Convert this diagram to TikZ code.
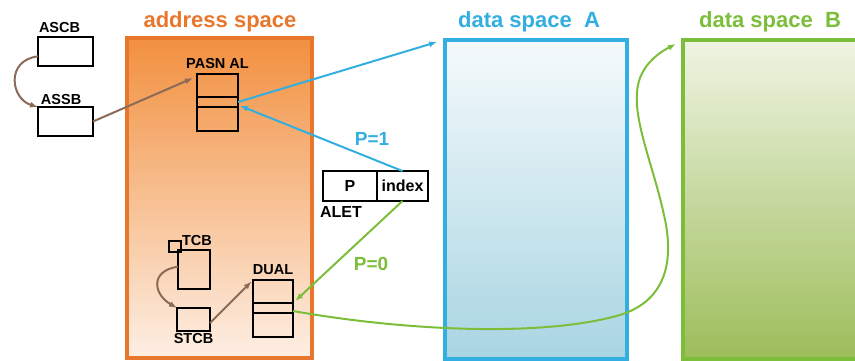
\documentclass[tikz,border=0pt]{standalone}
\usepackage{fontspec}
\setmainfont{Liberation Sans}
\usetikzlibrary{positioning,arrows.meta}

\definecolor{asedge}{HTML}{E8762C}
\definecolor{astop}{HTML}{F2903F}
\definecolor{asmid}{HTML}{F7B485}
\definecolor{asbot}{HTML}{FDEFE4}
\definecolor{dsaedge}{HTML}{33AEE1}
\definecolor{dsatop}{HTML}{F5FAFC}
\definecolor{dsabot}{HTML}{A8D5E2}
\definecolor{dsbedge}{HTML}{7CBD3A}
\definecolor{dsbtop}{HTML}{EFF4E3}
\definecolor{dsbmid}{HTML}{CADBA2}
\definecolor{dsbbot}{HTML}{9DBD5A}
\definecolor{ptrbrown}{HTML}{8B6B58}

\begin{document}
\begin{tikzpicture}
[
x=1pt, y=-1pt,
every node/.style={inner sep=0pt, outer sep=0pt},
lbl/.style={font=\fontsize{14.5}{15}\selectfont\bfseries},
cell/.style={draw, line width=2pt},
area/.style={line width=3.2pt},
heading/.style={anchor=base, font=\fontsize{22}{24}\selectfont\bfseries},
plabel/.style={anchor=base, font=\fontsize{19}{20}\selectfont\bfseries},
link/.style={line width=2pt, -{Latex[length=8pt,width=6pt]}}
]
\useasboundingbox (0,0) rectangle (855,360);

% spaces
\node[area, draw=asedge, top color=astop, middle color=asmid, bottom color=asbot, minimum width=185pt, minimum height=320pt] (as) at (219.5,198) {};
\node[heading, text=asedge] (astitle) at (220,27) {address space};
\node[area, draw=dsaedge, top color=dsatop, bottom color=dsabot, minimum width=182pt, minimum height=319pt] (dsA) at (536,199.5) {};
\node[heading, text=dsaedge] (dsAtitle) at (529,27) {data space\ \ A};
\node[area, draw=dsbedge, top color=dsbtop, middle color=dsbmid, bottom color=dsbbot, minimum width=190pt, minimum height=319pt] (dsB) at (778,199.5) {};
\node[heading, text=dsbedge] (dsBtitle) at (770,27) {data space\ \ B};

% control blocks
\node[cell, fill=white, minimum width=55pt, minimum height=29pt] (ascb) at (65.5,51.5) {};
\node[lbl, above right=4pt and 1pt of ascb.north west] (ascblbl) {ASCB};
\node[cell, fill=white, minimum width=55pt, minimum height=29pt] (assb) at (65.5,121.5) {};
\node[lbl, above right=2pt and 3pt of assb.north west] (assblbl) {ASSB};

\node[cell, minimum width=41pt, minimum height=23pt] (pasn1) at (217.5,85.5) {};
\node[cell, minimum width=41pt, minimum height=10pt, below=0pt of pasn1] (pasn2) {};
\node[cell, minimum width=41pt, minimum height=24pt, below=0pt of pasn2] (pasn3) {};
\node[lbl, above=5pt of pasn1] (pasnlbl) {PASN AL};

\node[cell, minimum width=32pt, minimum height=39pt] (tcb) at (194,269.5) {};
\node[cell, minimum width=12pt, minimum height=11pt] (tcbmark) at (175,246.5) {};
\node[lbl, above right=4pt and 4pt of tcb.north west] (tcblbl) {TCB};
\node[cell, minimum width=33pt, minimum height=23pt] (stcb) at (193.5,319.5) {};
\node[lbl, below=2.5pt of stcb] (stcblbl) {STCB};

\node[cell, minimum width=40pt, minimum height=23pt] (dual1) at (273,291.5) {};
\node[cell, minimum width=40pt, minimum height=10pt, below=0pt of dual1] (dual2) {};
\node[cell, minimum width=40pt, minimum height=24pt, below=0pt of dual2] (dual3) {};
\node[lbl, above=5pt of dual1] (duallbl) {DUAL};

% access list entry token
\node[cell, fill=white, minimum width=54pt, minimum height=30pt, font=\fontsize{16}{17}\selectfont\bfseries] (aletP) at (350,186) {P};
\node[cell, fill=white, minimum width=51pt, minimum height=30pt, font=\fontsize{16}{17}\selectfont\bfseries, right=0pt of aletP] (aletidx) {index};
\node[font=\fontsize{16}{17}\selectfont\bfseries, below right=5pt and -3pt of aletP.south west] (aletlbl) {ALET};

\node[plabel, text=dsaedge] (p1) at (372,145) {P=1};
\node[plabel, text=dsbedge] (p0) at (371,270) {P=0};

% pointers
\draw[link, ptrbrown] (ascb.190) .. controls +(-33,4) and +(-27,-8) .. (assb.north west);
\draw[link, ptrbrown] (assb.east) -- ([xshift=-4pt,yshift=-4pt]pasn1.north west);
\draw[link, ptrbrown] (tcb.170) .. controls +(-28,4) and +(-24,-14) .. (stcb.north west);
\draw[link, ptrbrown, shorten >=2pt] (stcb.348) -- (dual1.north west);

\draw[link, dsaedge] (pasn2.east) -- ([xshift=-8pt,yshift=-2pt]dsA.north west);
\draw[link, dsaedge, shorten >=2pt] (aletidx.north) -- ([yshift=-3pt]pasn2.east);
\draw[link, dsbedge, shorten >=3pt] (aletidx.south) -- (dual2.north east);
\draw[link, dsbedge] ([yshift=2pt]dual2.south east) .. controls (400,330) and (540,338) .. (620,315)
  .. controls (668,300) and (674,258) .. (664,215)
  .. controls (652,160) and (628,110) .. (640,78)
  .. controls (646,62) and (660,52) .. ([xshift=-7pt,yshift=-4pt]dsB.north west);
\end{tikzpicture}
\end{document}
